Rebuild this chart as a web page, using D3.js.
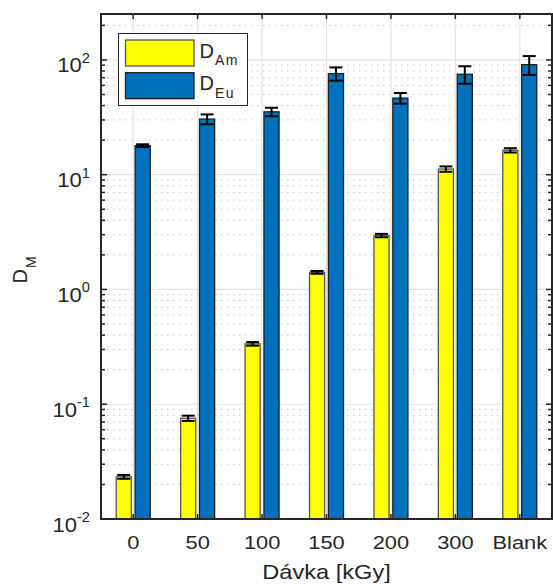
<!DOCTYPE html>
<html>
<head>
<meta charset="utf-8">
<script src="https://cdn.jsdelivr.net/npm/d3@7"></script>
<style>
  html, body { margin: 0; padding: 0; background: #fff; }
  svg { display: block; font-family: "Liberation Sans", Arial, sans-serif; }
</style>
</head>
<body>
<svg id="chart" width="553" height="586"></svg>
<script>
// Dose categories and measured distribution ratios
const categories = ["0", "50", "100", "150", "200", "300", "Blank"];
const seriesNames = ["Am", "Eu"];
const dAm = [0.0233, 0.0755, 0.336, 1.41, 2.95, 11.2, 16.3];
const dAmErr = [0.0009, 0.004, 0.012, 0.04, 0.1, 0.6, 0.7];
const dEu = [17.9, 30.5, 35.3, 76, 46.5, 75, 91];
const dEuErr = [0.5, 3, 3, 10, 5, 13, 17];
const yTickExponents = [-2, -1, 0, 1, 2];

const colors = { Am: "#FFFF00", Eu: "#0072BD" };
const edges = { Am: "#555555", Eu: "#1f1f1f" };
const ink = "#262626";

const svg = d3.select("#chart");
const m = { left: 101, top: 14, right: 552, bottom: 519 };

const x = d3.scaleBand().domain(categories).range([m.left, m.right]).padding(0);
const y = d3.scaleLog().domain([0.01, Math.pow(10, 2.4)]).range([m.bottom, m.top]);

const rows = categories.map((c, i) => ({
  cat: c,
  values: [
    { key: "Am", v: dAm[i], e: dAmErr[i] },
    { key: "Eu", v: dEu[i], e: dEuErr[i] }
  ]
}));

// inner band for the two series around each category centre
const half = 17;
const xs = d3.scaleBand().domain(seriesNames).range([-half, half]).paddingInner(0.2);
const cx = c => x(c) + x.bandwidth() / 2;

// text with a slight horizontal stretch, as in the original typesetting
function stretchedText(parent, px, py, sx) {
  return parent.append("text")
    .attr("transform", `translate(${px},${py}) scale(${sx},1)`)
    .attr("fill", ink);
}

// --- grid ---
const grid = svg.append("g");
const minorVals = [];
for (let k = -2; k <= 2; k++) {
  for (let j = 2; j <= 9; j++) {
    const v = j * Math.pow(10, k);
    if (v <= y.domain()[1]) minorVals.push(v);
  }
}
grid.selectAll("line.minor").data(minorVals).enter().append("line")
  .attr("x1", m.left).attr("x2", m.right)
  .attr("y1", d => y(d)).attr("y2", d => y(d))
  .attr("stroke", "#c8c8c8").attr("stroke-width", 1)
  .attr("stroke-dasharray", "1.5,4.5");
grid.selectAll("line.majorY").data(yTickExponents).enter().append("line")
  .attr("x1", m.left).attr("x2", m.right)
  .attr("y1", d => y(Math.pow(10, d))).attr("y2", d => y(Math.pow(10, d)))
  .attr("stroke", "#e3e3e3").attr("stroke-width", 1.2);
grid.selectAll("line.majorX").data(categories).enter().append("line")
  .attr("x1", d => cx(d)).attr("x2", d => cx(d))
  .attr("y1", m.top).attr("y2", m.bottom)
  .attr("stroke", "#e3e3e3").attr("stroke-width", 1.2);

// --- bars ---
const plot = svg.append("g");
svg.append("clipPath").attr("id", "clip").append("rect")
  .attr("x", m.left).attr("y", m.top)
  .attr("width", m.right - m.left).attr("height", m.bottom - m.top);
plot.attr("clip-path", "url(#clip)");

const groups = plot.selectAll("g.grp").data(rows).enter().append("g")
  .attr("transform", d => `translate(${cx(d.cat)},0)`);

groups.selectAll("rect").data(d => d.values).enter().append("rect")
  .attr("x", d => xs(d.key))
  .attr("width", xs.bandwidth())
  .attr("y", d => y(d.v))
  .attr("height", d => m.bottom + 2 - y(d.v))
  .attr("fill", d => colors[d.key])
  .attr("stroke", d => edges[d.key])
  .attr("stroke-width", 1.3);

// --- error bars ---
const capHalf = 6.5;
const eb = groups.selectAll("g.err").data(d => d.values).enter().append("g")
  .attr("transform", d => `translate(${xs(d.key) + xs.bandwidth() / 2},0)`)
  .attr("stroke", "#000").attr("stroke-width", 2);
eb.append("line").attr("x1", 0).attr("x2", 0)
  .attr("y1", d => y(d.v + d.e)).attr("y2", d => y(d.v - d.e));
eb.append("line").attr("x1", -capHalf).attr("x2", capHalf)
  .attr("y1", d => y(d.v + d.e)).attr("y2", d => y(d.v + d.e));
eb.append("line").attr("x1", -capHalf).attr("x2", capHalf)
  .attr("y1", d => y(d.v - d.e)).attr("y2", d => y(d.v - d.e));

// --- axes & ticks ---
const axes = svg.append("g").attr("stroke", ink);
const majorVals = yTickExponents.map(e => Math.pow(10, e));
[m.left, m.right].forEach((x0, side) => {
  const dir = side === 0 ? 1 : -1;
  axes.selectAll(null).data(majorVals).enter().append("line")
    .attr("x1", x0).attr("x2", x0 + dir * 6)
    .attr("y1", d => y(d)).attr("y2", d => y(d)).attr("stroke-width", 1.5);
  axes.selectAll(null).data(minorVals).enter().append("line")
    .attr("x1", x0).attr("x2", x0 + dir * 4)
    .attr("y1", d => y(d)).attr("y2", d => y(d)).attr("stroke-width", 1.5);
});
[m.top, m.bottom].forEach((y0, side) => {
  const dir = side === 0 ? 1 : -1;
  axes.selectAll(null).data(categories).enter().append("line")
    .attr("x1", d => cx(d)).attr("x2", d => cx(d))
    .attr("y1", y0).attr("y2", y0 + dir * 5).attr("stroke-width", 1.5);
});
svg.append("rect")
  .attr("x", m.left).attr("y", m.top)
  .attr("width", m.right - m.left).attr("height", m.bottom - m.top)
  .attr("fill", "none").attr("stroke", ink).attr("stroke-width", 2);

// x tick labels
const xLabels = svg.append("g");
categories.forEach(c => {
  stretchedText(xLabels, cx(c), 548.5, 1.18)
    .attr("text-anchor", "middle").attr("font-size", 18.5).text(c);
});

// y tick labels: 10 with superscript exponent
const yLabels = svg.append("g");
yTickExponents.forEach(e => {
  const t = stretchedText(yLabels, 90, y(Math.pow(10, e)) + 12.5, 1.05)
    .attr("text-anchor", "end");
  t.append("tspan").attr("font-size", 21).text("10");
  t.append("tspan").attr("font-size", 14).attr("dy", -9.5).text(String(e));
});

// axis titles
stretchedText(svg, 326.5, 579.3, 1.18)
  .attr("text-anchor", "middle").attr("font-size", 20)
  .text("Dávka [kGy]");
const yt = svg.append("text")
  .attr("transform", "translate(27,270) rotate(-90)")
  .attr("text-anchor", "middle").attr("fill", ink);
yt.append("tspan").attr("font-size", 20).text("D");
yt.append("tspan").attr("font-size", 14).attr("dy", 9).attr("dx", 1).text("M");

// --- legend ---
const lg = svg.append("g");
lg.append("rect").attr("x", 118.5).attr("y", 33.5).attr("width", 129).attr("height", 72)
  .attr("fill", "#fff").attr("stroke", ink).attr("stroke-width", 1);
seriesNames.forEach((s, i) => {
  const y0 = 40 + i * 32.7;
  lg.append("rect").attr("x", 125.5).attr("y", y0).attr("width", 68.5).attr("height", 26)
    .attr("fill", colors[s]).attr("stroke", edges[s]).attr("stroke-width", 1.3);
  const t = lg.append("text").attr("x", 199.5).attr("y", y0 + 17.5).attr("fill", ink);
  t.append("tspan").attr("font-size", 20).text("D");
  t.append("tspan").attr("font-size", 14).attr("dy", 7.5).attr("dx", 1)
    .attr("letter-spacing", 1.5).text(s);
});
</script>
</body>
</html>
